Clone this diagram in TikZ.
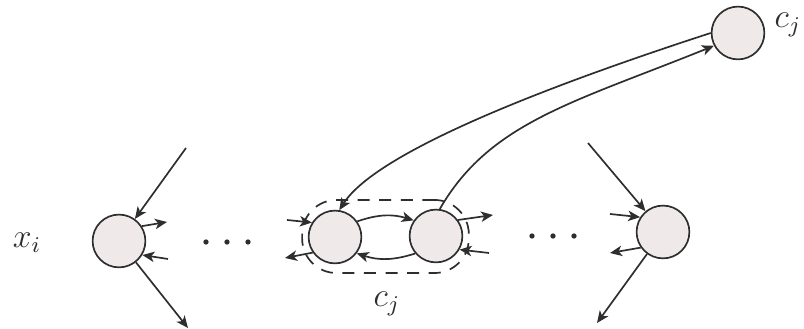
\documentclass[tikz,border=0pt]{standalone}
\usetikzlibrary{arrows.meta,positioning,fit}
\definecolor{ink}{HTML}{2E2E2E}
\definecolor{cellfill}{HTML}{F0E9E9}
\tikzset{
  link/.style={-{Stealth[length=1.5mm,width=1.3mm,inset=.4mm]},draw=ink,line width=.6pt},
  var/.style={circle,draw=ink,line width=.6pt,fill=cellfill,
    minimum size=6.6mm,inner sep=0pt},
  lbl/.style={text=ink,inner sep=0pt,font=\large},
  group/.style={draw=ink,dash pattern=on 1.5mm off 1.2mm,line width=.6pt,
    rounded corners=4.3mm,inner xsep=.7mm,inner ysep=1.1mm},
}

\begin{document}
\begin{tikzpicture}[x=0.125mm,y=0.125mm]
\useasboundingbox (0,0) rectangle (804,329);

% variable nodes and the check node
\node[var] (xi) at (119,88) {};
\node[var] (n1) at (335,92) {};
\node[var] (n2) at (436,93) {};
\node[var] (nr) at (663,97) {};
\node[var] (cj) at (738,296) {};
\node[group,fit=(n1)(n2)] (grp) {};

\node[lbl] (xilab) at (27,86) {$x_i$};
\node[lbl] (cjlab) at (788,304) {$c_j$};
\node[lbl] (grplab) at (387,25) {$c_j$};

\foreach \x in {206,227,248} \fill[ink] (\x,87) circle (.33mm);
\foreach \x in {532,553,574} \fill[ink] (\x,93) circle (.33mm);

% free ends of the short edges
\coordinate (xin1) at (186,181);
\coordinate (xout1) at (167,107);
\coordinate (xin2) at (168,70);
\coordinate (xout2) at (188,1);
\coordinate (n1in) at (287,109);
\coordinate (n1out) at (285,71);
\coordinate (n2out) at (493,114);
\coordinate (n2in) at (489,76);
\coordinate (nrin1) at (588,186);
\coordinate (nrin2) at (610,115);
\coordinate (nrout1) at (610,76);
\coordinate (nrout2) at (597,6);

\draw[link] (xin1) -- (xi);
\draw[link] (xi.33) -- (xout1);
\draw[link] (xin2) -- (xi.-31);
\draw[link] (xi) -- (xout2);

\draw[link] (n1in) -- (n1.148);
\draw[link] (n1.215) -- (n1out);
\draw[link] (n1.35) to[bend left=18] (n2.145);
\draw[link] (n2.220) to[bend left=18] (n1.-37);
\draw[link] (n2.36) -- (n2out);
\draw[link] (n2in) -- (n2.-30);

\draw[link] (nrin1) -- (nr);
\draw[link] (nrin2) -- (nr.147);
\draw[link] (nr.215) -- (nrout1);
\draw[link] (nr) -- (nrout2);

\draw[link] (cj.180) to[out=198,in=57,out distance=2cm,in distance=.9cm] (n1.81);
\draw[link] (n2.82) to[out=60,in=202,out distance=1.25cm,in distance=1.9cm] (cj.208);
\end{tikzpicture}
\end{document}
